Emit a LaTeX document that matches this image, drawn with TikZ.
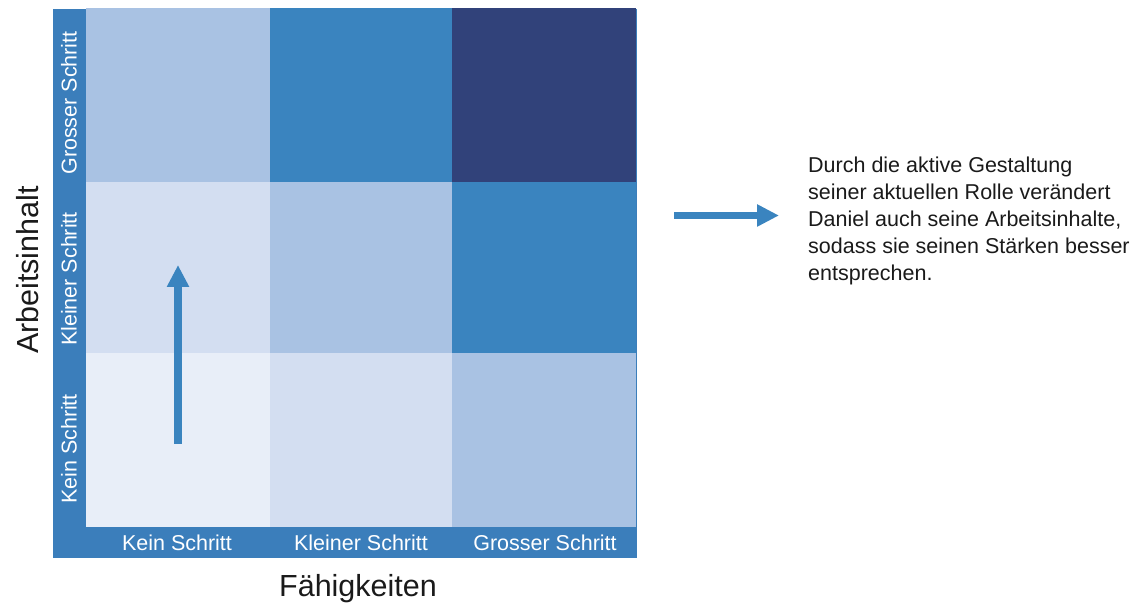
\documentclass[tikz,border=0pt]{standalone}
\usepackage{fontspec}
\setmainfont{Liberation Sans}
\usetikzlibrary{arrows.meta}
\definecolor{cA}{HTML}{E8EEF8}
\definecolor{cB}{HTML}{D3DEF1}
\definecolor{cC}{HTML}{A9C2E3}
\definecolor{cD}{HTML}{3A84BF}
\definecolor{cE}{HTML}{31427A}
\definecolor{frame}{HTML}{3B7EBB}
\definecolor{txt}{HTML}{1A1A1A}
\begin{document}
\begin{tikzpicture}[x=1pt,y=-1pt,
  cell/.style={anchor=north west,inner sep=0pt,outer sep=0pt,draw=none},
  lab/.style={text=white,font=\fontsize{21.5}{24}\selectfont,inner sep=0pt},
  axis/.style={text=txt,font=\fontsize{30.5}{34}\selectfont,inner sep=0pt},
  bigarrow/.style={draw=cD,line width=7.5pt,-{Triangle[width=21pt,length=22pt]}}]
\useasboundingbox (0,0) rectangle (1136,609);
% frame
\fill[frame] (53,9) rectangle (637,558);
% cells: columns 86-270-452-636, rows 8-182-353-527
\node[cell,fill=cC,minimum width=184pt,minimum height=174pt] (c02) at (86,8) {};
\node[cell,fill=cD,minimum width=182pt,minimum height=174pt] (c12) at (270,8) {};
\node[cell,fill=cE,minimum width=184pt,minimum height=174pt] (c22) at (452,8) {};
\node[cell,fill=cB,minimum width=184pt,minimum height=171pt] (c01) at (86,182) {};
\node[cell,fill=cC,minimum width=182pt,minimum height=171pt] (c11) at (270,182) {};
\node[cell,fill=cD,minimum width=184pt,minimum height=171pt] (c21) at (452,182) {};
\node[cell,fill=cA,minimum width=184pt,minimum height=174pt] (c00) at (86,353) {};
\node[cell,fill=cB,minimum width=182pt,minimum height=174pt] (c10) at (270,353) {};
\node[cell,fill=cC,minimum width=184pt,minimum height=174pt] (c20) at (452,353) {};
% row labels
\node[lab,rotate=90] (r2) at (69,103) {Grosser Schritt};
\node[lab,rotate=90] (r1) at (69,279) {Kleiner Schritt};
\node[lab,rotate=90] (r0) at (69,449) {Kein Schritt};
% column labels
\node[lab] (k0) at (177,543) {Kein Schritt};
\node[lab] (k1) at (361,543) {Kleiner Schritt};
\node[lab] (k2) at (545,543) {Grosser Schritt};
% axis titles
\node[axis] (xa) at (358,589) {Fähigkeiten};
\node[axis,rotate=90] (ya) at (28,270) {Arbeitsinhalt};
% arrows
\coordinate (ua) at (178,444);
\coordinate (ub) at (178,265);
\draw[bigarrow] (ua) -- (ub);
\coordinate (ra) at (674,215.5);
\coordinate (rb) at (779,215.5);
\draw[bigarrow] (ra) -- (rb);
% description
\node[anchor=north west,inner sep=0pt,align=left,text=txt,font=\fontsize{21.5}{27}\selectfont] (desc) at (808,156.3)
{Durch die aktive Gestaltung\\seiner aktuellen Rolle verändert\\Daniel auch seine Arbeitsinhalte,\\sodass sie seinen Stärken besser\\entsprechen.};
\end{tikzpicture}
\end{document}
